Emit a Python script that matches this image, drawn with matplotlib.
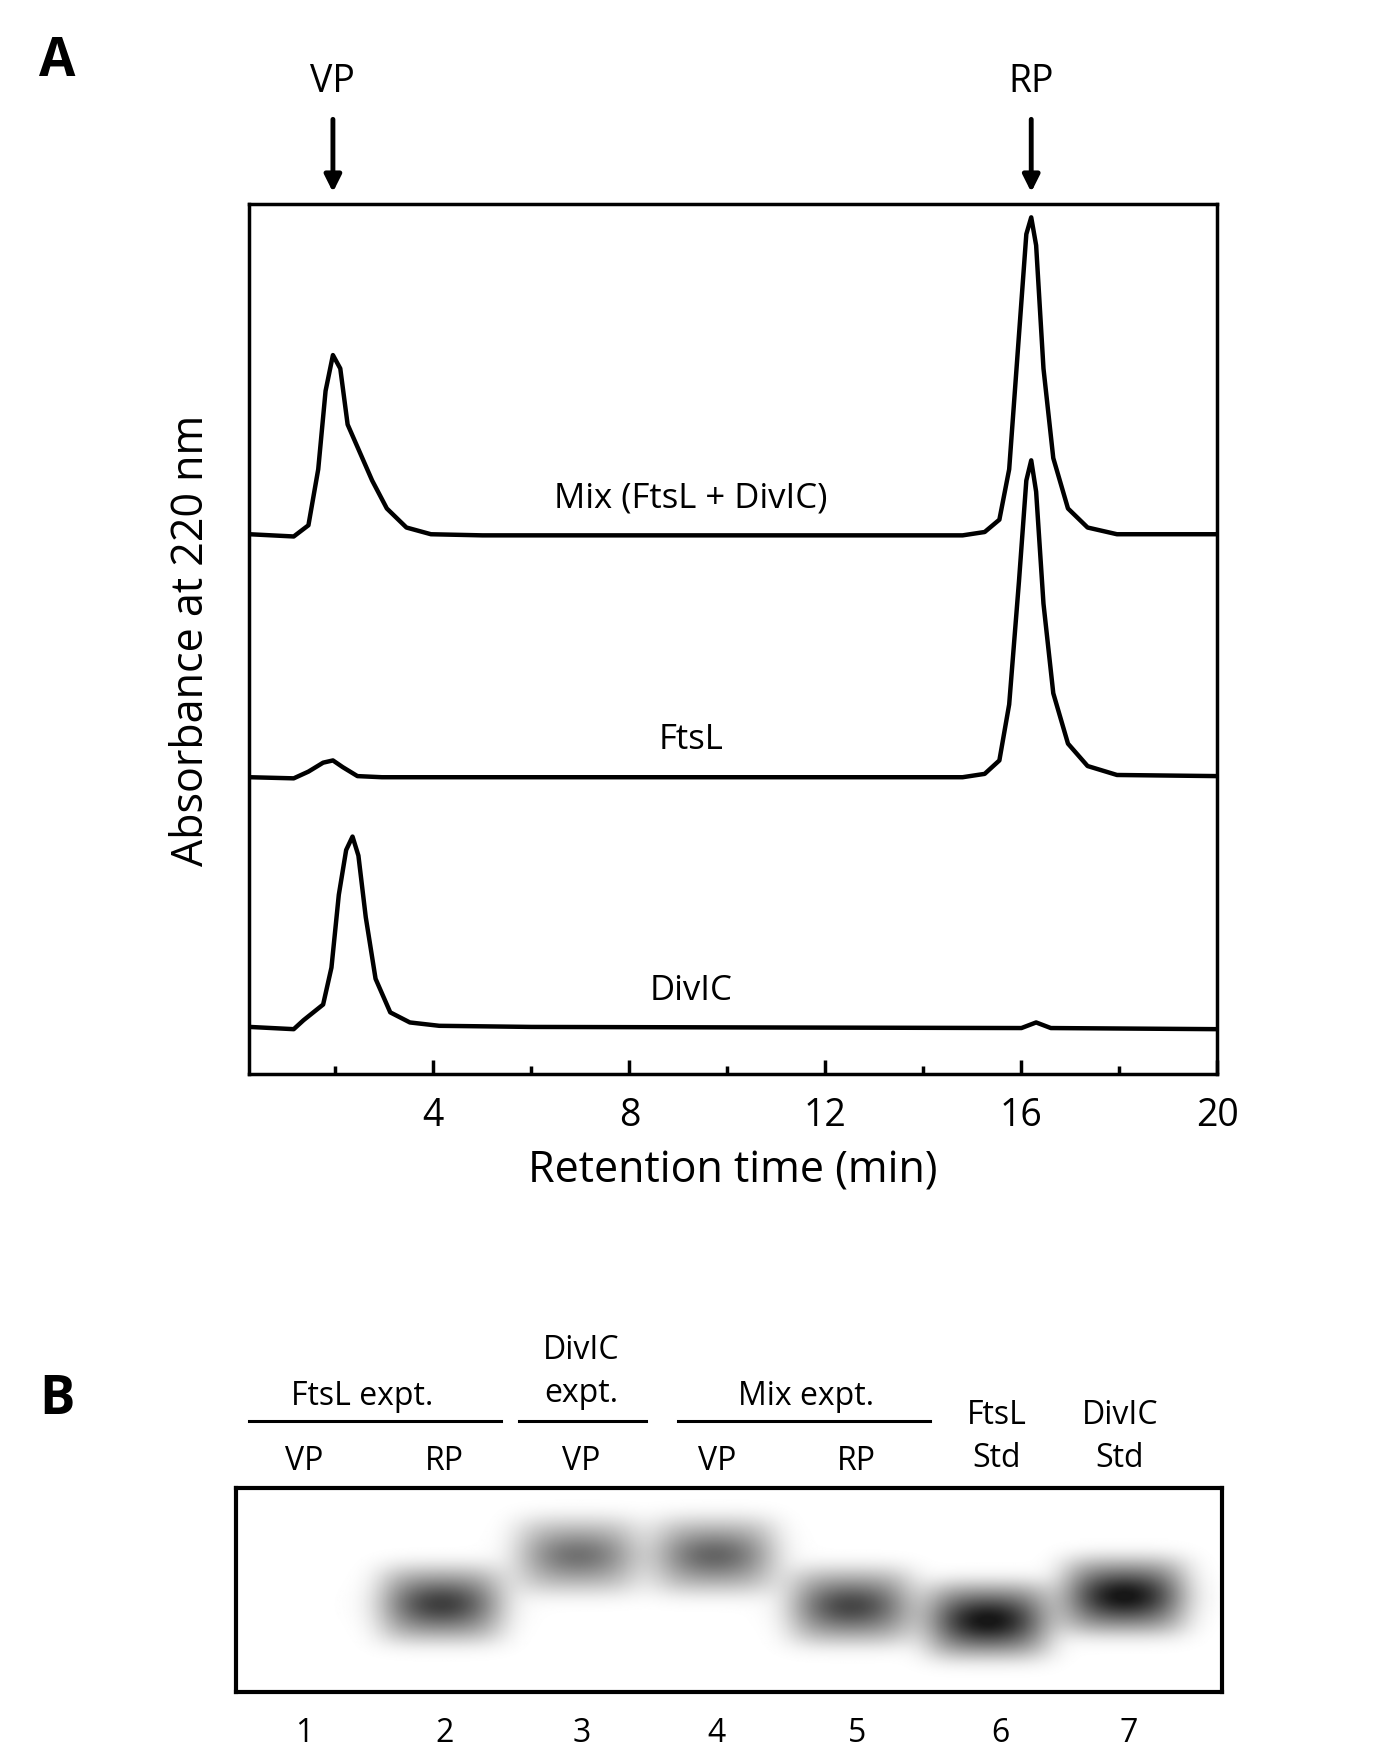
import numpy as np
import matplotlib
matplotlib.use("Agg")
import matplotlib.pyplot as plt

plt.rcParams['font.family'] = ['Open Sans', 'DejaVu Sans']

# Panel A data
mix_t = [0.25,1.15,1.45,1.65,1.8,1.95,2.1,2.25,2.45,2.75,3.05,3.45,3.95,5,14.8,15.25,15.55,15.75,15.95,16.1,16.2,16.3,16.45,16.65,16.95,17.35,17.95,20.0]
mix_a = [482,480,490,540,610,642,630,580,560,530,505,488,482,481,481,484,495,540,660,750,765,740,630,550,505,488,482,482]
ftsl_t = [0.25,1.15,1.45,1.75,1.95,2.15,2.45,2.95,14.8,15.25,15.55,15.75,15.95,16.1,16.2,16.3,16.45,16.65,16.95,17.35,17.95,20.0]
ftsl_a = [265,264,270,278,280,274,266,265,265,268,280,330,440,530,548,520,420,340,295,275,267,266]
divic_t = [0.25,1.15,1.35,1.55,1.75,1.92,2.07,2.22,2.35,2.47,2.62,2.82,3.12,3.52,4.12,6,16.0,16.3,16.6,20.0]
divic_a = [42,40,48,55,62,95,160,200,212,195,140,85,55,46,43,42,41,46,41,40]
trace_labels = ["Mix (FtsL + DivIC)", "FtsL", "DivIC"]
label_y = [500, 284, 60]
arrow_labels = ["VP", "RP"]
arrow_t = [1.95, 16.2]

# Panel B data
lanes = [1, 2, 3, 4, 5, 6, 7]
lane_sub = ["VP", "RP", "VP", "VP", "RP", "", ""]
band_lane = [2, 3, 4, 5, 6, 7]
band_pos = [0.43, 0.67, 0.67, 0.42, 0.35, 0.47]
band_int = [0.75, 0.55, 0.6, 0.72, 0.92, 0.92]

W, H = 1250, 1570
def fx(p): return p / W
def fy(p): return 1 - p / H

fig = plt.figure(figsize=(14, 17.58), dpi=100)
ax = fig.add_axes([fx(222), fy(960), fx(1087) - fx(222), fy(183) - fy(960)])
for t, a in [(mix_t, mix_a), (ftsl_t, ftsl_a), (divic_t, divic_a)]:
    ax.plot(t, a, color='black', lw=3.2, solid_joinstyle='round')
for lab, yv in zip(trace_labels, label_y):
    ax.text(9.25, yv, lab, ha='center', va='bottom', fontsize=25)
ax.set_xlim(0.23, 20.0)
ax.set_ylim(0, 777)
ax.set_xticks([4, 8, 12, 16, 20])
ax.set_xticks([2, 6, 10, 14, 18], minor=True)
ax.set_yticks([])
ax.tick_params(axis='x', which='both', direction='in', width=2.5, labelsize=27, pad=16)
ax.tick_params(axis='x', which='major', length=10)
ax.tick_params(axis='x', which='minor', length=6)
for s in ax.spines.values():
    s.set_linewidth(2.5)
ax.set_xlabel("Retention time (min)", fontsize=31, labelpad=10)
ax.set_ylabel("Absorbance at 220 nm", fontsize=31, labelpad=25)
for lab, t in zip(arrow_labels, arrow_t):
    ax.annotate("", xy=(t, 785), xytext=(t, 855), xycoords='data', textcoords='data',
                annotation_clip=False,
                arrowprops=dict(arrowstyle='-|>,head_width=0.5,head_length=1.0', color='black', lw=3.5))
    ax.text(t, 870, lab, ha='center', va='bottom', fontsize=27, clip_on=False)

fig.text(fx(35), fy(55), "A", fontsize=38, fontweight='bold', va='center')
fig.text(fx(35), fy(1250), "B", fontsize=38, fontweight='bold', va='center')

# Gel
gx = fig.add_axes([fx(211), fy(1512), fx(1091) - fx(211), fy(1330) - fy(1512)])
xl = (0.5, 7.71)
X, Y = np.meshgrid(np.linspace(xl[0], xl[1], 900), np.linspace(0, 1, 200))
img = np.zeros_like(X)
for ln, p, it in zip(band_lane, band_pos, band_int):
    core = np.exp(-(((X - ln) / 0.36) ** 2 + ((Y - p) / 0.11) ** 2))
    halo = np.exp(-(((X - ln) / 0.48) ** 4 + ((Y - p) / 0.2) ** 4) * 1.2)
    img += it * (0.6 * core + 0.5 * halo)
img = np.clip(img, 0, 1)
gx.imshow(img, extent=[xl[0], xl[1], 0, 1], origin='lower', cmap='gray_r', vmin=0, vmax=1.1, aspect='auto')
gx.set_xlim(*xl); gx.set_ylim(0, 1)
gx.set_xticks([]); gx.set_yticks([])
for s in gx.spines.values():
    s.set_linewidth(3)

lane_px = [272, 397, 519, 640, 765, 893, 1008]
for ln, px, sub in zip(lanes, lane_px, lane_sub):
    fig.text(fx(px), fy(1548), str(ln), ha='center', va='center', fontsize=23)
    if sub:
        fig.text(fx(px), fy(1305), sub, ha='center', va='center', fontsize=23)
fig.text(fx(323), fy(1247), "FtsL expt.", ha='center', va='center', fontsize=23)
fig.text(fx(519), fy(1225), "DivIC\nexpt.", ha='center', va='center', fontsize=23, linespacing=1.4)
fig.text(fx(720), fy(1247), "Mix expt.", ha='center', va='center', fontsize=23)
fig.text(fx(890), fy(1283), "FtsL\nStd", ha='center', va='center', fontsize=23, linespacing=1.4)
fig.text(fx(1000), fy(1283), "DivIC\nStd", ha='center', va='center', fontsize=23, linespacing=1.4)
for a, b in [(222, 447), (463, 577), (605, 830)]:
    fig.add_artist(plt.Line2D([fx(a), fx(b)], [fy(1270), fy(1270)], color='black', lw=2.2))

fig.savefig("out.png", dpi=100, facecolor='white')
